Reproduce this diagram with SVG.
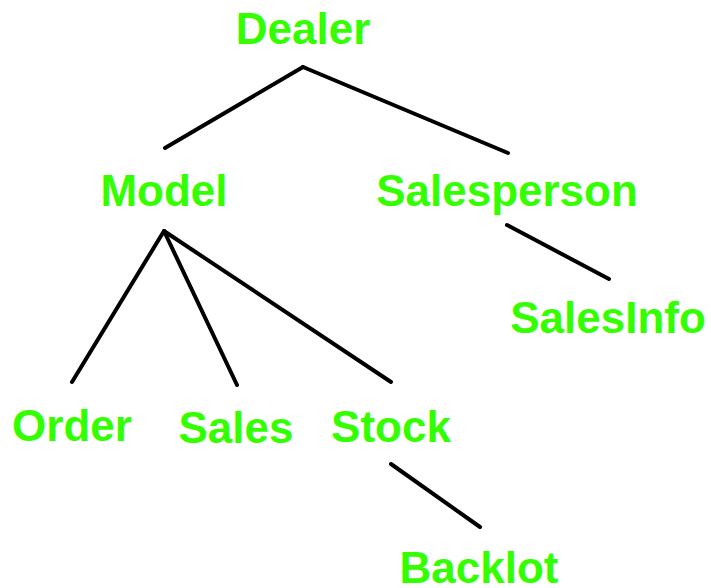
<svg xmlns="http://www.w3.org/2000/svg" width="711" height="588" viewBox="0 0 711 588">
<style>
text{font-family:"Liberation Sans",Arial,sans-serif;font-weight:bold;font-size:44px;fill:#33ff00;text-anchor:middle}
line{stroke:#000;stroke-width:4;stroke-linecap:round}
</style>
<rect width="711" height="588" fill="#fff"/>
<g id="connectors">
<line x1="303" y1="67" x2="165" y2="148"/>
<line x1="303" y1="67" x2="508" y2="153"/>
<line x1="164" y1="231" x2="72" y2="382"/>
<line x1="164" y1="231" x2="237" y2="385"/>
<line x1="164" y1="231" x2="391" y2="382"/>
<line x1="507" y1="225" x2="609" y2="279"/>
<line x1="391" y1="464" x2="480" y2="527"/>
</g>
<g id="dealer"><text x="303" y="44">Dealer</text></g>
<g id="model"><text x="164" y="206">Model</text></g>
<g id="salesperson"><text x="507" y="206">Salesperson</text></g>
<g id="salesinfo"><text x="608" y="333">SalesInfo</text></g>
<g id="order"><text x="72" y="441">Order</text></g>
<g id="sales"><text x="236" y="443">Sales</text></g>
<g id="stock"><text x="391" y="442">Stock</text></g>
<g id="backlot"><text x="479" y="583">Backlot</text></g>
</svg>
